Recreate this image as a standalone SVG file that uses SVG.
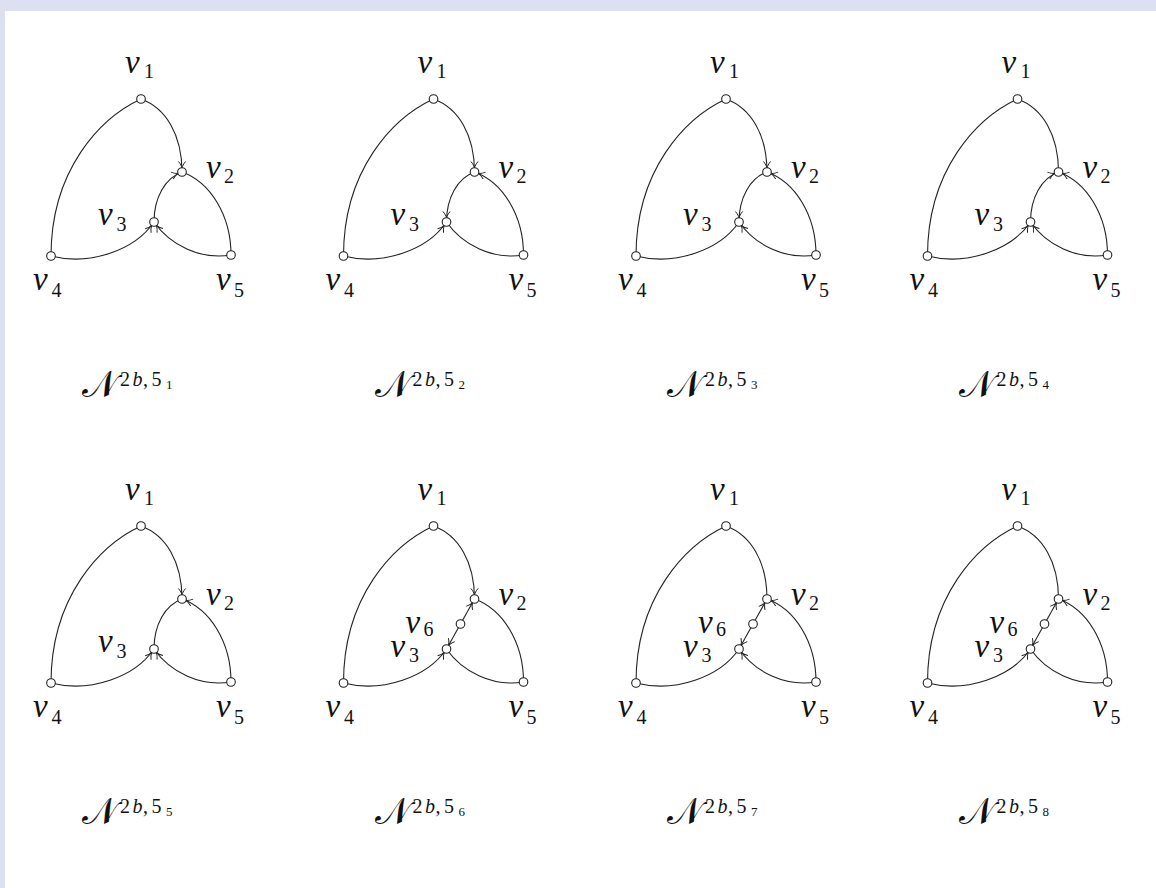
<svg xmlns="http://www.w3.org/2000/svg" width="1156" height="888" viewBox="0 0 1156 888">
<style>
.e{fill:none;stroke:#222;stroke-width:1.1}
.a{marker-end:url(#arr)}
.n{fill:#fff;stroke:#222;stroke-width:1.1}
.lb{font-family:"Liberation Serif","Times New Roman",serif;font-style:italic;font-size:33px;fill:#111}
.s{font-style:normal;font-size:20px}
.nm{font-family:"Liberation Serif","Times New Roman",serif;fill:#111}
.cal{font-size:37px}
.sup{font-size:20px}
.sub{font-size:13px}
.i{font-style:italic}
</style>
<defs>
<marker id="arr" markerUnits="userSpaceOnUse" viewBox="-12 -6 14 12" markerWidth="14" markerHeight="12" refX="0" refY="0" orient="auto" overflow="visible">
<path d="M-10.5,-3.6 C-8,-1.4 -5.8,-0.4 -4,0 C-5.8,0.4 -8,1.4 -10.5,3.6" fill="none" stroke="#222" stroke-width="1"/>
</marker>
</defs>
<rect x="0" y="0" width="1156" height="888" fill="#dde0f0"/>
<rect x="5" y="11" width="1151" height="877" fill="#fff"/>

<!-- Panel 1 -->
<g id="panel1" transform="translate(0,0)">
<g id="panel1-connectors">
<path class="e" d="M141,99 C100,118 51,170 51,256"/>
<path class="e a" d="M141,99 C166,108 182,135 182,172"/>
<path class="e a" d="M154,222 C154,198 165,178 182,172"/>
<path class="e" d="M182,172 C210,182 231,215 231,255"/>
<path class="e a" d="M51,256 C90,266 135,250 154,222"/>
<path class="e a" d="M231,255 C200,260 170,245 154,222"/>
</g>
<g id="panel1-v1"><circle class="n" cx="141" cy="99" r="4.3"/><text class="lb"><tspan x="125" y="73">v</tspan><tspan class="s" x="144" y="78">1</tspan></text></g>
<g id="panel1-v2"><circle class="n" cx="182" cy="172" r="4.3"/><text class="lb"><tspan x="206" y="178">v</tspan><tspan class="s" x="224" y="183">2</tspan></text></g>
<g id="panel1-v3"><circle class="n" cx="154" cy="222" r="4.3"/><text class="lb"><tspan x="98" y="225">v</tspan><tspan class="s" x="116.5" y="231">3</tspan></text></g>
<g id="panel1-v4"><circle class="n" cx="51" cy="256" r="4.3"/><text class="lb"><tspan x="33" y="290">v</tspan><tspan class="s" x="51.5" y="297">4</tspan></text></g>
<g id="panel1-v5"><circle class="n" cx="231" cy="255" r="4.3"/><text class="lb"><tspan x="216" y="290">v</tspan><tspan class="s" x="234" y="297">5</tspan></text></g>
<text id="panel1-label" class="nm"><tspan class="cal" x="82" y="397">𝒩</tspan><tspan class="sup" x="120" y="386">2</tspan><tspan class="sup i" x="132.5" y="386">b</tspan><tspan class="sup" x="143" y="386">,</tspan><tspan class="sup" x="151.5" y="386">5</tspan><tspan class="sub" x="166" y="389">1</tspan></text>
</g>

<!-- Panel 2 -->
<g id="panel2" transform="translate(292.5,0)">
<g id="panel2-connectors">
<path class="e" d="M141,99 C100,118 51,170 51,256"/>
<path class="e a" d="M141,99 C166,108 182,135 182,172"/>
<path class="e a" d="M182,172 C165,178 154,198 154,222"/>
<path class="e a" d="M231,255 C231,215 210,182 182,172"/>
<path class="e a" d="M51,256 C90,266 135,250 154,222"/>
<path class="e" d="M231,255 C200,260 170,245 154,222"/>
</g>
<g id="panel2-v1"><circle class="n" cx="141" cy="99" r="4.3"/><text class="lb"><tspan x="125" y="73">v</tspan><tspan class="s" x="144" y="78">1</tspan></text></g>
<g id="panel2-v2"><circle class="n" cx="182" cy="172" r="4.3"/><text class="lb"><tspan x="206" y="178">v</tspan><tspan class="s" x="224" y="183">2</tspan></text></g>
<g id="panel2-v3"><circle class="n" cx="154" cy="222" r="4.3"/><text class="lb"><tspan x="98" y="225">v</tspan><tspan class="s" x="116.5" y="231">3</tspan></text></g>
<g id="panel2-v4"><circle class="n" cx="51" cy="256" r="4.3"/><text class="lb"><tspan x="33" y="290">v</tspan><tspan class="s" x="51.5" y="297">4</tspan></text></g>
<g id="panel2-v5"><circle class="n" cx="231" cy="255" r="4.3"/><text class="lb"><tspan x="216" y="290">v</tspan><tspan class="s" x="234" y="297">5</tspan></text></g>
<text id="panel2-label" class="nm"><tspan class="cal" x="82" y="397">𝒩</tspan><tspan class="sup" x="120" y="386">2</tspan><tspan class="sup i" x="132.5" y="386">b</tspan><tspan class="sup" x="143" y="386">,</tspan><tspan class="sup" x="151.5" y="386">5</tspan><tspan class="sub" x="166" y="389">2</tspan></text>
</g>

<!-- Panel 3 -->
<g id="panel3" transform="translate(585,0)">
<g id="panel3-connectors">
<path class="e" d="M141,99 C100,118 51,170 51,256"/>
<path class="e a" d="M141,99 C166,108 182,135 182,172"/>
<path class="e a" d="M182,172 C165,178 154,198 154,222"/>
<path class="e a" d="M231,255 C231,215 210,182 182,172"/>
<path class="e" d="M51,256 C90,266 135,250 154,222"/>
<path class="e a" d="M231,255 C200,260 170,245 154,222"/>
</g>
<g id="panel3-v1"><circle class="n" cx="141" cy="99" r="4.3"/><text class="lb"><tspan x="125" y="73">v</tspan><tspan class="s" x="144" y="78">1</tspan></text></g>
<g id="panel3-v2"><circle class="n" cx="182" cy="172" r="4.3"/><text class="lb"><tspan x="206" y="178">v</tspan><tspan class="s" x="224" y="183">2</tspan></text></g>
<g id="panel3-v3"><circle class="n" cx="154" cy="222" r="4.3"/><text class="lb"><tspan x="98" y="225">v</tspan><tspan class="s" x="116.5" y="231">3</tspan></text></g>
<g id="panel3-v4"><circle class="n" cx="51" cy="256" r="4.3"/><text class="lb"><tspan x="33" y="290">v</tspan><tspan class="s" x="51.5" y="297">4</tspan></text></g>
<g id="panel3-v5"><circle class="n" cx="231" cy="255" r="4.3"/><text class="lb"><tspan x="216" y="290">v</tspan><tspan class="s" x="234" y="297">5</tspan></text></g>
<text id="panel3-label" class="nm"><tspan class="cal" x="82" y="397">𝒩</tspan><tspan class="sup" x="120" y="386">2</tspan><tspan class="sup i" x="132.5" y="386">b</tspan><tspan class="sup" x="143" y="386">,</tspan><tspan class="sup" x="151.5" y="386">5</tspan><tspan class="sub" x="166" y="389">3</tspan></text>
</g>

<!-- Panel 4 -->
<g id="panel4" transform="translate(876.5,0)">
<g id="panel4-connectors">
<path class="e" d="M141,99 C100,118 51,170 51,256"/>
<path class="e" d="M141,99 C166,108 182,135 182,172"/>
<path class="e a" d="M154,222 C154,198 165,178 182,172"/>
<path class="e a" d="M231,255 C231,215 210,182 182,172"/>
<path class="e a" d="M51,256 C90,266 135,250 154,222"/>
<path class="e a" d="M231,255 C200,260 170,245 154,222"/>
</g>
<g id="panel4-v1"><circle class="n" cx="141" cy="99" r="4.3"/><text class="lb"><tspan x="125" y="73">v</tspan><tspan class="s" x="144" y="78">1</tspan></text></g>
<g id="panel4-v2"><circle class="n" cx="182" cy="172" r="4.3"/><text class="lb"><tspan x="206" y="178">v</tspan><tspan class="s" x="224" y="183">2</tspan></text></g>
<g id="panel4-v3"><circle class="n" cx="154" cy="222" r="4.3"/><text class="lb"><tspan x="98" y="225">v</tspan><tspan class="s" x="116.5" y="231">3</tspan></text></g>
<g id="panel4-v4"><circle class="n" cx="51" cy="256" r="4.3"/><text class="lb"><tspan x="33" y="290">v</tspan><tspan class="s" x="51.5" y="297">4</tspan></text></g>
<g id="panel4-v5"><circle class="n" cx="231" cy="255" r="4.3"/><text class="lb"><tspan x="216" y="290">v</tspan><tspan class="s" x="234" y="297">5</tspan></text></g>
<text id="panel4-label" class="nm"><tspan class="cal" x="82" y="397">𝒩</tspan><tspan class="sup" x="120" y="386">2</tspan><tspan class="sup i" x="132.5" y="386">b</tspan><tspan class="sup" x="143" y="386">,</tspan><tspan class="sup" x="151.5" y="386">5</tspan><tspan class="sub" x="166" y="389">4</tspan></text>
</g>

<!-- Panel 5 -->
<g id="panel5" transform="translate(0,427)">
<g id="panel5-connectors">
<path class="e" d="M141,99 C100,118 51,170 51,256"/>
<path class="e a" d="M141,99 C166,108 182,135 182,172"/>
<path class="e" d="M154,222 C154,198 165,178 182,172"/>
<path class="e a" d="M231,255 C231,215 210,182 182,172"/>
<path class="e a" d="M51,256 C90,266 135,250 154,222"/>
<path class="e a" d="M231,255 C200,260 170,245 154,222"/>
</g>
<g id="panel5-v1"><circle class="n" cx="141" cy="99" r="4.3"/><text class="lb"><tspan x="125" y="73">v</tspan><tspan class="s" x="144" y="78">1</tspan></text></g>
<g id="panel5-v2"><circle class="n" cx="182" cy="172" r="4.3"/><text class="lb"><tspan x="206" y="178">v</tspan><tspan class="s" x="224" y="183">2</tspan></text></g>
<g id="panel5-v3"><circle class="n" cx="154" cy="222" r="4.3"/><text class="lb"><tspan x="98" y="225">v</tspan><tspan class="s" x="116.5" y="231">3</tspan></text></g>
<g id="panel5-v4"><circle class="n" cx="51" cy="256" r="4.3"/><text class="lb"><tspan x="33" y="290">v</tspan><tspan class="s" x="51.5" y="297">4</tspan></text></g>
<g id="panel5-v5"><circle class="n" cx="231" cy="255" r="4.3"/><text class="lb"><tspan x="216" y="290">v</tspan><tspan class="s" x="234" y="297">5</tspan></text></g>
<text id="panel5-label" class="nm"><tspan class="cal" x="82" y="397">𝒩</tspan><tspan class="sup" x="120" y="386">2</tspan><tspan class="sup i" x="132.5" y="386">b</tspan><tspan class="sup" x="143" y="386">,</tspan><tspan class="sup" x="151.5" y="386">5</tspan><tspan class="sub" x="166" y="389">5</tspan></text>
</g>

<!-- Panel 6 -->
<g id="panel6" transform="translate(292.5,427)">
<g id="panel6-connectors">
<path class="e" d="M141,99 C100,118 51,170 51,256"/>
<path class="e a" d="M141,99 C166,108 182,135 182,172"/>
<path class="e a" d="M168,197 L182,172"/>
<path class="e a" d="M168,197 L154,222"/>
<path class="e" d="M182,172 C210,182 231,215 231,255"/>
<path class="e a" d="M51,256 C90,266 135,250 154,222"/>
<path class="e" d="M231,255 C200,260 170,245 154,222"/>
</g>
<g id="panel6-v1"><circle class="n" cx="141" cy="99" r="4.3"/><text class="lb"><tspan x="125" y="73">v</tspan><tspan class="s" x="144" y="78">1</tspan></text></g>
<g id="panel6-v2"><circle class="n" cx="182" cy="172" r="4.3"/><text class="lb"><tspan x="206" y="178">v</tspan><tspan class="s" x="224" y="183">2</tspan></text></g>
<g id="panel6-v3"><circle class="n" cx="154" cy="222" r="4.3"/><text class="lb"><tspan x="98" y="230">v</tspan><tspan class="s" x="116.5" y="235">3</tspan></text></g>
<g id="panel6-v4"><circle class="n" cx="51" cy="256" r="4.3"/><text class="lb"><tspan x="33" y="290">v</tspan><tspan class="s" x="51.5" y="297">4</tspan></text></g>
<g id="panel6-v5"><circle class="n" cx="231" cy="255" r="4.3"/><text class="lb"><tspan x="216" y="290">v</tspan><tspan class="s" x="234" y="297">5</tspan></text></g>
<g id="panel6-v6"><circle class="n" cx="168" cy="197" r="4.3"/><text class="lb"><tspan x="113" y="206">v</tspan><tspan class="s" x="131" y="209">6</tspan></text></g>
<text id="panel6-label" class="nm"><tspan class="cal" x="82" y="397">𝒩</tspan><tspan class="sup" x="120" y="386">2</tspan><tspan class="sup i" x="132.5" y="386">b</tspan><tspan class="sup" x="143" y="386">,</tspan><tspan class="sup" x="151.5" y="386">5</tspan><tspan class="sub" x="166" y="389">6</tspan></text>
</g>

<!-- Panel 7 -->
<g id="panel7" transform="translate(585,427)">
<g id="panel7-connectors">
<path class="e" d="M141,99 C100,118 51,170 51,256"/>
<path class="e" d="M141,99 C166,108 182,135 182,172"/>
<path class="e a" d="M168,197 L182,172"/>
<path class="e a" d="M168,197 L154,222"/>
<path class="e a" d="M231,255 C231,215 210,182 182,172"/>
<path class="e" d="M51,256 C90,266 135,250 154,222"/>
<path class="e a" d="M231,255 C200,260 170,245 154,222"/>
</g>
<g id="panel7-v1"><circle class="n" cx="141" cy="99" r="4.3"/><text class="lb"><tspan x="125" y="73">v</tspan><tspan class="s" x="144" y="78">1</tspan></text></g>
<g id="panel7-v2"><circle class="n" cx="182" cy="172" r="4.3"/><text class="lb"><tspan x="206" y="178">v</tspan><tspan class="s" x="224" y="183">2</tspan></text></g>
<g id="panel7-v3"><circle class="n" cx="154" cy="222" r="4.3"/><text class="lb"><tspan x="98" y="230">v</tspan><tspan class="s" x="116.5" y="235">3</tspan></text></g>
<g id="panel7-v4"><circle class="n" cx="51" cy="256" r="4.3"/><text class="lb"><tspan x="33" y="290">v</tspan><tspan class="s" x="51.5" y="297">4</tspan></text></g>
<g id="panel7-v5"><circle class="n" cx="231" cy="255" r="4.3"/><text class="lb"><tspan x="216" y="290">v</tspan><tspan class="s" x="234" y="297">5</tspan></text></g>
<g id="panel7-v6"><circle class="n" cx="168" cy="197" r="4.3"/><text class="lb"><tspan x="113" y="206">v</tspan><tspan class="s" x="131" y="209">6</tspan></text></g>
<text id="panel7-label" class="nm"><tspan class="cal" x="82" y="397">𝒩</tspan><tspan class="sup" x="120" y="386">2</tspan><tspan class="sup i" x="132.5" y="386">b</tspan><tspan class="sup" x="143" y="386">,</tspan><tspan class="sup" x="151.5" y="386">5</tspan><tspan class="sub" x="166" y="389">7</tspan></text>
</g>

<!-- Panel 8 -->
<g id="panel8" transform="translate(876.5,427)">
<g id="panel8-connectors">
<path class="e" d="M141,99 C100,118 51,170 51,256"/>
<path class="e" d="M141,99 C166,108 182,135 182,172"/>
<path class="e a" d="M168,197 L182,172"/>
<path class="e a" d="M168,197 L154,222"/>
<path class="e a" d="M231,255 C231,215 210,182 182,172"/>
<path class="e a" d="M51,256 C90,266 135,250 154,222"/>
<path class="e" d="M231,255 C200,260 170,245 154,222"/>
</g>
<g id="panel8-v1"><circle class="n" cx="141" cy="99" r="4.3"/><text class="lb"><tspan x="125" y="73">v</tspan><tspan class="s" x="144" y="78">1</tspan></text></g>
<g id="panel8-v2"><circle class="n" cx="182" cy="172" r="4.3"/><text class="lb"><tspan x="206" y="178">v</tspan><tspan class="s" x="224" y="183">2</tspan></text></g>
<g id="panel8-v3"><circle class="n" cx="154" cy="222" r="4.3"/><text class="lb"><tspan x="98" y="230">v</tspan><tspan class="s" x="116.5" y="235">3</tspan></text></g>
<g id="panel8-v4"><circle class="n" cx="51" cy="256" r="4.3"/><text class="lb"><tspan x="33" y="290">v</tspan><tspan class="s" x="51.5" y="297">4</tspan></text></g>
<g id="panel8-v5"><circle class="n" cx="231" cy="255" r="4.3"/><text class="lb"><tspan x="216" y="290">v</tspan><tspan class="s" x="234" y="297">5</tspan></text></g>
<g id="panel8-v6"><circle class="n" cx="168" cy="197" r="4.3"/><text class="lb"><tspan x="113" y="206">v</tspan><tspan class="s" x="131" y="209">6</tspan></text></g>
<text id="panel8-label" class="nm"><tspan class="cal" x="82" y="397">𝒩</tspan><tspan class="sup" x="120" y="386">2</tspan><tspan class="sup i" x="132.5" y="386">b</tspan><tspan class="sup" x="143" y="386">,</tspan><tspan class="sup" x="151.5" y="386">5</tspan><tspan class="sub" x="166" y="389">8</tspan></text>
</g>
</svg>
